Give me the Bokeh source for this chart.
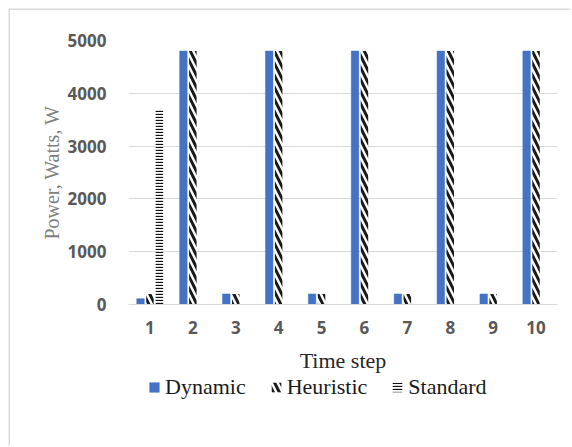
from bokeh.plotting import figure
from bokeh.models import FactorRange, ColumnDataSource, Legend, LegendItem, Label
from bokeh.layouts import column
from bokeh.transform import dodge
from bokeh.embed import file_html
from bokeh.resources import INLINE

steps = ["1", "2", "3", "4", "5", "6", "7", "8", "9", "10"]
dynamic = [110, 4800, 200, 4800, 200, 4800, 200, 4800, 200, 4800]
heuristic = [200, 4800, 200, 4800, 200, 4800, 200, 4800, 200, 4800]
standard = [3700, 0, 0, 0, 0, 0, 0, 0, 0, 0]
series = ["Dynamic", "Heuristic", "Standard"]
y_ticks = [0, 1000, 2000, 3000, 4000, 5000]
x_title = "Time step"
y_title = "Power, Watts, W"

BLUE = "#4472c4"
styles_ = [dict(fill_color=BLUE, line_color=BLUE, line_width=0.5),
           dict(fill_color="white", line_color=None, hatch_pattern="\\",
                hatch_color="#1a1a1a", hatch_scale=12, hatch_weight=3),
           dict(fill_color="white", line_color=None, hatch_pattern="-",
                hatch_color="#111111", hatch_scale=3, hatch_weight=1.3)]

src = ColumnDataSource(dict(x=steps, dyn=dynamic, heu=heuristic, std=standard))

p = figure(width=562, height=334, x_range=FactorRange(*steps, range_padding=0),
           y_range=(0, 5000), output_backend="svg", toolbar_location=None,
           min_border_left=118, min_border_right=15, min_border_top=30,
           min_border_bottom=40)
p.x_range.factor_padding = 0
p.outline_line_color = None
p.background_fill_color = "white"
p.border_fill_color = "white"

w = 0.175
for col, off, st in zip(["dyn", "heu", "std"], [-0.22, 0.0, 0.22], styles_):
    p.vbar(x=dodge("x", off, range=p.x_range), top=col, width=w, source=src, **st)

p.xgrid.grid_line_color = None
p.ygrid.grid_line_color = "#d9d9d9"
p.ygrid.grid_line_width = 1
p.yaxis.ticker = y_ticks
p.yaxis.axis_line_color = None
p.yaxis.major_tick_line_color = None
p.yaxis.minor_tick_line_color = None
p.xaxis.axis_line_color = "#d9d9d9"
p.xaxis.major_tick_line_color = None
p.xaxis.minor_tick_line_color = None
for ax in (p.xaxis, p.yaxis):
    ax.major_label_text_font = "Open Sans"
    ax.major_label_text_font_style = "bold"
    ax.major_label_text_font_size = "17px"
    ax.major_label_text_color = "#595959"
p.yaxis.major_label_standoff = 16
p.xaxis.major_label_standoff = 10

p.yaxis.axis_label = y_title
p.yaxis.axis_label_text_font = "Liberation Serif"
p.yaxis.axis_label_text_font_style = "normal"
p.yaxis.axis_label_text_font_size = "20px"
p.yaxis.axis_label_text_color = "#7f7f7f"
p.yaxis.axis_label_standoff = 2

# strip below the chart: x-axis title and legend
lf = figure(width=562, height=103, x_range=(0, 1), y_range=(0, 1),
            output_backend="svg", toolbar_location=None,
            min_border_left=0, min_border_right=0,
            min_border_top=0, min_border_bottom=0)
lf.axis.visible = False
lf.grid.visible = False
lf.outline_line_color = None
lf.border_fill_color = "white"
lf.background_fill_color = "white"

lf.add_layout(Label(x=0.5, y=87, y_units="screen", text=x_title,
                    text_align="center", text_baseline="alphabetic",
                    text_font="Liberation Serif", text_font_size="22px",
                    text_color="#262626"))

items = []
for name, st in zip(series, styles_):
    r = lf.vbar(x=[-10], top=[0], width=0.1, **st)
    items.append(LegendItem(label=name, renderers=[r]))
legend = Legend(items=items, orientation="horizontal", location=(20, 47),
                label_text_font="Liberation Serif", label_text_font_size="22px",
                label_text_color="#1a1a1a", glyph_width=12, glyph_height=12,
                label_standoff=5, spacing=24, padding=0, margin=0,
                border_line_color=None, background_fill_alpha=0)
lf.add_layout(legend, "center")

layout = column(p, lf, spacing=0, margin=(10, 0, 0, 10),
                styles={"box-shadow": "-1.5px -1.5px 0 0 #d9d9d9"})

open("out.html", "w").write(file_html(layout, INLINE))
